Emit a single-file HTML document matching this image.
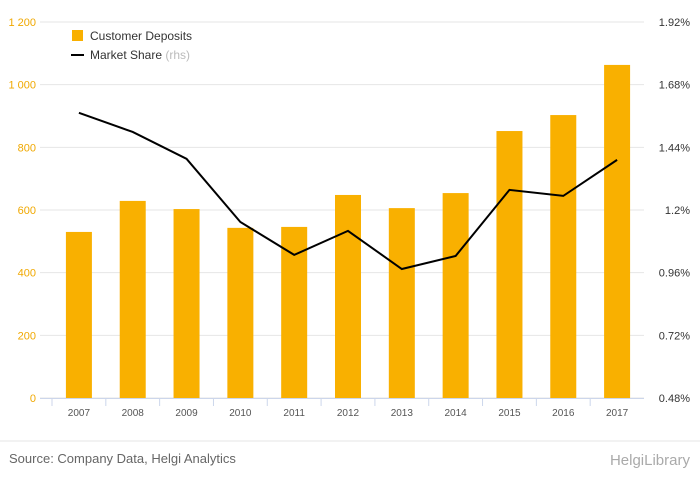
<!DOCTYPE html>
<html><head><meta charset="utf-8"><style>
body{margin:0;background:#fff;font-family:"Liberation Sans",sans-serif;}
</style></head><body>
<svg id="c" width="700" height="483" xmlns="http://www.w3.org/2000/svg"></svg>
<script>
const years=["2007","2008","2009","2010","2011","2012","2013","2014","2015","2016","2017"];
const deposits=[530,629,603,543,546,648,606,654,852,903,1063];
const share=[1.572,1.499,1.396,1.154,1.028,1.12,0.974,1.024,1.277,1.254,1.392];
const leftTicks=[0,200,400,600,800,1000,1200];
const leftLabels=["0","200","400","600","800","1 000","1 200"];
const rightTicks=[0.48,0.72,0.96,1.2,1.44,1.68,1.92];
const rightLabels=["0.48%","0.72%","0.96%","1.2%","1.44%","1.68%","1.92%"];
const svg=document.getElementById('c');const NS='http://www.w3.org/2000/svg';
function mk(t,a,p){const e=document.createElementNS(NS,t);for(const k in a)e.setAttribute(k,a[k]);(p||svg).appendChild(e);return e;}
const gx0=40,x0=52,x1=644,yT=22,yB=398;
const yL=v=>yB-(v/1200)*(yB-yT);
const yR=v=>yB-((v-0.48)/1.44)*(yB-yT);
const step=(x1-x0)/years.length;
const xC=i=>x0+step*(i+0.5);
leftTicks.forEach((t,i)=>{
 const g=mk('line',{x1:gx0,x2:x1,y1:yL(t),y2:yL(t),stroke:'#e6e6e6','stroke-width':1});
 
 const l=mk('text',{x:36,y:yL(t)+4,'text-anchor':'end','font-size':11,fill:'#f0a800'});l.textContent=leftLabels[i];
 
});
rightTicks.forEach((t,i)=>{
 const l=mk('text',{x:690,y:yR(t)+4,'text-anchor':'end','font-size':11,fill:'#333'});l.textContent=rightLabels[i];
 
});
deposits.forEach((v,i)=>{
 const b=mk('rect',{x:xC(i)-13,y:yL(v),width:26,height:yB-yL(v),fill:'#f9b000'});
 
});
const ax=mk('line',{x1:gx0,x2:x1,y1:yB+0.5,y2:yB+0.5,stroke:'#ccd6eb'});

years.forEach((y,i)=>{
 const tk=mk('line',{x1:x0+step*i,x2:x0+step*i,y1:yB,y2:yB+8,stroke:'#ccd6eb'});
 
 const l=mk('text',{x:xC(i),y:416,'text-anchor':'middle','font-size':10,fill:'#555'});l.textContent=y;
 
});
const ln=mk('polyline',{points:share.map((v,i)=>xC(i)+','+yR(v)).join(' '),fill:'none',stroke:'#000','stroke-width':2});

const l1=mk('rect',{x:72,y:30,width:11,height:11,fill:'#f9b000'});
const t1=mk('text',{x:90,y:40,'font-size':12,fill:'#333'});t1.textContent='Customer Deposits';
const l2=mk('line',{x1:71,x2:84,y1:55,y2:55,stroke:'#000','stroke-width':2});
const t2=mk('text',{x:90,y:59,'font-size':12,fill:'#333'});t2.innerHTML='Market Share <tspan fill="#bbb">(rhs)</tspan>';
const fl=mk('line',{x1:0,x2:700,y1:441,y2:441,stroke:'#e6e6e6'});
const src=mk('text',{x:9,y:463,'font-size':13,fill:'#666'});src.textContent='Source: Company Data, Helgi Analytics';
const lg=mk('text',{x:690,y:465,'text-anchor':'end','font-size':15,fill:'#aaa'});lg.textContent='HelgiLibrary';
</script>
</body></html>
